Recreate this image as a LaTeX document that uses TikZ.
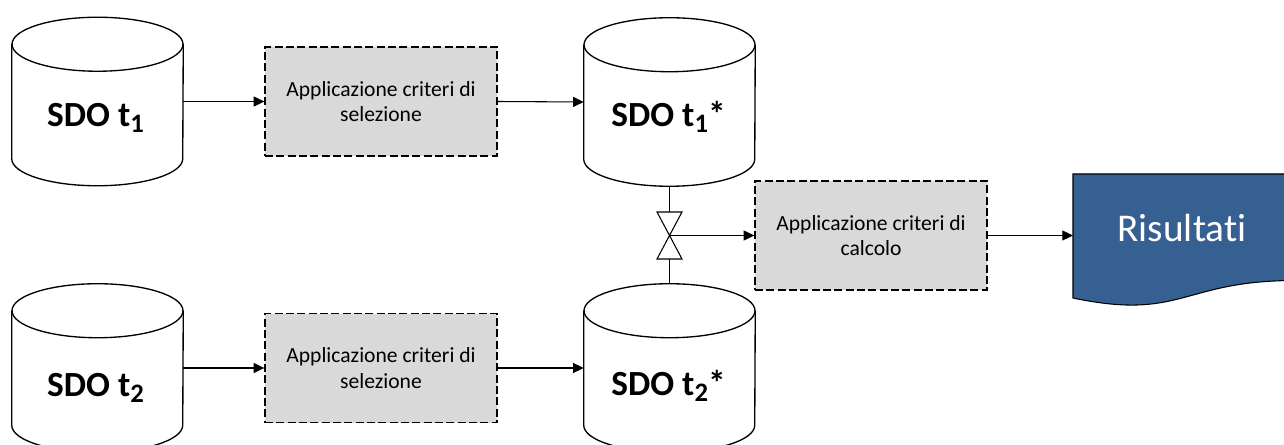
\documentclass[tikz,border=0pt]{standalone}
\usepackage{fontspec}
\setmainfont{Carlito}[Ligatures=NoCommon]
\usetikzlibrary{arrows.meta,calc}
\definecolor{procfill}{HTML}{D9D9D9}
\definecolor{resblue}{HTML}{376092}
% lowered index used in the store names
\newcommand\lowidx[1]{\raisebox{-4.5pt}{\fontsize{20}{20}\selectfont #1}}
\tikzset{
  dbframe/.style={rectangle, draw=none, inner sep=0pt, minimum width=128.25pt, minimum height=126pt},
  dbline/.style={draw=black, line width=1pt},
  dblabel/.style={inner sep=0pt, anchor=base, font=\fontsize{26.5}{30}\selectfont\bfseries},
  procbox/.style={rectangle, draw=black, fill=procfill, line width=1pt,
    dash pattern=on 6pt off 2.5pt, inner sep=0pt, minimum width=174pt, minimum height=81.75pt,
    align=center, font=\fontsize{16.2}{19}\selectfont},
  flow/.style={line width=0.8pt, -{Triangle[length=8pt, width=7.5pt]}},
  valveline/.style={line width=0.8pt},
  valvetri/.style={draw=black, fill=white, line width=0.8pt, line join=miter},
  restext/.style={inner sep=0pt, text=white, font=\fontsize{29.5}{34}\selectfont}
}
% cylinder outline drawn around a named frame node
\newcommand\drawdb[1]{%
  \draw[dbline] ($(#1.north)+(0,-27)$) ellipse [x radius=85.5, y radius=27];
  \draw[dbline] ($(#1.north west)+(0,-27)$) -- ($(#1.south west)+(0,27)$)
    arc[start angle=180, end angle=360, x radius=85.5, y radius=27]
    -- ($(#1.north east)+(0,-27)$);
}
\begin{document}
\begin{tikzpicture}[x=0.75pt, y=0.75pt]
\useasboundingbox (0,0) rectangle (1284,-445);
\clip (0,0) rectangle (1284,-445);

% data stores
\node[dbframe] (c1) at (97.5,-101.5) {};
\node[dbframe] (c2) at (97.5,-368) {};
\node[dbframe] (c3) at (669.5,-102) {};
\node[dbframe] (c4) at (669.5,-368) {};
\drawdb{c1}
\drawdb{c2}
\drawdb{c3}
\drawdb{c4}
\node[dblabel] (l1) at (95.5,-127) {SDO t\lowidx{1}};
\node[dblabel] (l2) at (95.5,-396) {SDO t\lowidx{2}};
\node[dblabel] (l3) at (668.5,-127) {SDO t\lowidx{1}*};
\node[dblabel] (l4) at (668.5,-395) {SDO t\lowidx{2}*};

% processing steps
\node[procbox] (b1) at (381,-101.5) {Applicazione criteri di\\selezione};
\node[procbox] (b3) at (381,-368) {Applicazione criteri di\\selezione};
\node[procbox] (b2) at (871,-235.5) {Applicazione criteri di\\calcolo};

% result document
\path[fill=resblue, draw=black, line width=0.8pt]
  (1073,-174) -- (1295,-174) -- (1295,-280.5)
  .. controls (1182,-280.5) and (1182,-321) .. (1073,-298) -- cycle;
\node[restext] (r) at (1182,-228) {Risultati};
\coordinate (rin) at (1073,-236);

% valve joining the two selected stores
\coordinate (v) at (669.5,-235.5);
\draw[valveline] (c3.south) -- (c4.north);
\draw[valvetri] ($(v)+(-12.5,23.5)$) -- ($(v)+(12.5,23.5)$) -- (v) -- cycle;
\draw[valvetri] ($(v)+(-12.5,-23.5)$) -- ($(v)+(12.5,-23.5)$) -- (v) -- cycle;

% flows
\draw[flow] (c1.east) -- (b1.west);
\draw[flow] (b1.east) -- (c3.west);
\draw[flow] (c2.east) -- (b3.west);
\draw[flow] (b3.east) -- (c4.west);
\draw[flow] (v) -- (v -| b2.west);
\draw[flow] (b2.east) -- (b2.east -| rin);
\end{tikzpicture}
\end{document}
